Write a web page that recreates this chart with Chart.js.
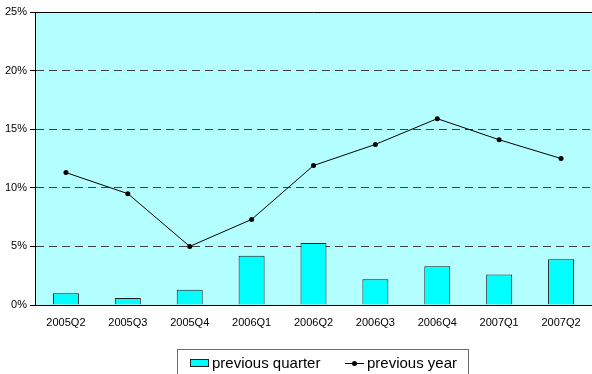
<!DOCTYPE html>
<html>
<head>
<meta charset="utf-8">
<script src="https://cdn.jsdelivr.net/npm/chart.js@4/dist/chart.umd.min.js"></script>
<style>
  html, body { margin: 0; padding: 0; background: #fff; overflow: hidden; }
  #wrap { width: 596px; height: 374px; }
</style>
</head>
<body>
<div id="wrap"><canvas id="growthChart" width="596" height="374"></canvas></div>
<script>
const quarters = ['2005Q2', '2005Q3', '2005Q4', '2006Q1', '2006Q2', '2006Q3', '2006Q4', '2007Q1', '2007Q2'];
const prevQuarter = [1.0, 0.6, 1.3, 4.2, 5.3, 2.2, 3.3, 2.6, 3.9];
const prevYear = [11.3, 9.5, 5.0, 7.3, 11.9, 13.7, 15.9, 14.1, 12.5];
const yTicks = [0, 5, 10, 15, 20, 25];

const font = 'Arial, "Liberation Sans", sans-serif';

// plot area fill + frame, and the boxed legend underneath
const frame = {
    id: 'frame',
    beforeDraw(chart) {
        const a = chart.chartArea, ctx = chart.ctx;
        ctx.save();
        ctx.fillStyle = '#b3ffff';
        ctx.fillRect(a.left, a.top, a.right - a.left, a.bottom - a.top);
        ctx.restore();
    },
    afterDraw(chart) {
        const a = chart.chartArea, ctx = chart.ctx;
        ctx.save();
        ctx.strokeStyle = '#000';
        ctx.lineWidth = 1;
        ctx.beginPath();
        ctx.moveTo(a.left, a.top + 0.5);
        ctx.lineTo(a.right, a.top + 0.5);
        ctx.stroke();

        // legend
        const bx = 177.5, by = 349.5, bw = 291, bh = 30;
        ctx.fillStyle = '#fff';
        ctx.fillRect(bx, by, bw, bh);
        ctx.strokeStyle = '#6b6b6b';
        ctx.strokeRect(bx, by, bw, bh);

        ctx.fillStyle = '#00ffff';
        ctx.fillRect(190, 359, 19, 8);
        ctx.strokeStyle = '#222';
        ctx.strokeRect(190.5, 359.5, 18, 7);

        ctx.font = '15px ' + font;
        ctx.fillStyle = '#000';
        ctx.textBaseline = 'middle';
        ctx.fillText(chart.data.datasets[0].label, 212, 363.5);

        ctx.strokeStyle = '#000';
        ctx.beginPath();
        ctx.moveTo(345, 363.5);
        ctx.lineTo(364, 363.5);
        ctx.stroke();
        ctx.beginPath();
        ctx.arc(354.5, 363.5, 2.5, 0, Math.PI * 2);
        ctx.fill();
        ctx.fillText(chart.data.datasets[1].label, 367, 363.5);
        ctx.restore();
    }
};

new Chart(document.getElementById('growthChart'), {
    type: 'bar',
    data: {
        labels: quarters,
        datasets: [{
            type: 'bar',
            label: 'previous quarter',
            data: prevQuarter,
            backgroundColor: '#00ffff',
            borderColor: '#1e1e1e',
            borderWidth: 1,
            barPercentage: 0.42,
            categoryPercentage: 1,
            order: 2
        }, {
            type: 'line',
            label: 'previous year',
            data: prevYear,
            borderColor: '#000',
            borderWidth: 1,
            backgroundColor: '#000',
            pointRadius: 2.5,
            pointBorderWidth: 0,
            tension: 0,
            order: 1
        }]
    },
    options: {
        responsive: false,
        devicePixelRatio: 1,
        animation: false,
        layout: { padding: { left: 0, right: 1, top: 12, bottom: 0 } },
        plugins: {
            legend: { display: false },
            tooltip: { enabled: false }
        },
        scales: {
            x: {
                grid: { display: false },
                border: { color: '#000', width: 1 },
                ticks: { color: '#000', font: { family: font, size: 11 }, padding: 3, maxRotation: 0 },
                afterFit(scale) { scale.height = 69; }
            },
            y: {
                min: 0,
                max: 25,
                afterBuildTicks(scale) { scale.ticks = yTicks.map(v => ({ value: v })); },
                grid: {
                    color: ctx => (ctx.tick && ctx.tick.value > 0 && ctx.tick.value < 25) ? '#404040' : 'rgba(0,0,0,0)',
                    tickColor: '#000',
                    tickLength: 5,
                    lineWidth: 1
                },
                border: { color: '#000', width: 1, dash: [8, 5] },
                ticks: {
                    color: '#000',
                    font: { family: font, size: 11 },
                    padding: 3,
                    callback: v => v + '%'
                },
                afterFit(scale) { scale.width = 35; }
            }
        }
    },
    plugins: [frame]
});
</script>
</body>
</html>
